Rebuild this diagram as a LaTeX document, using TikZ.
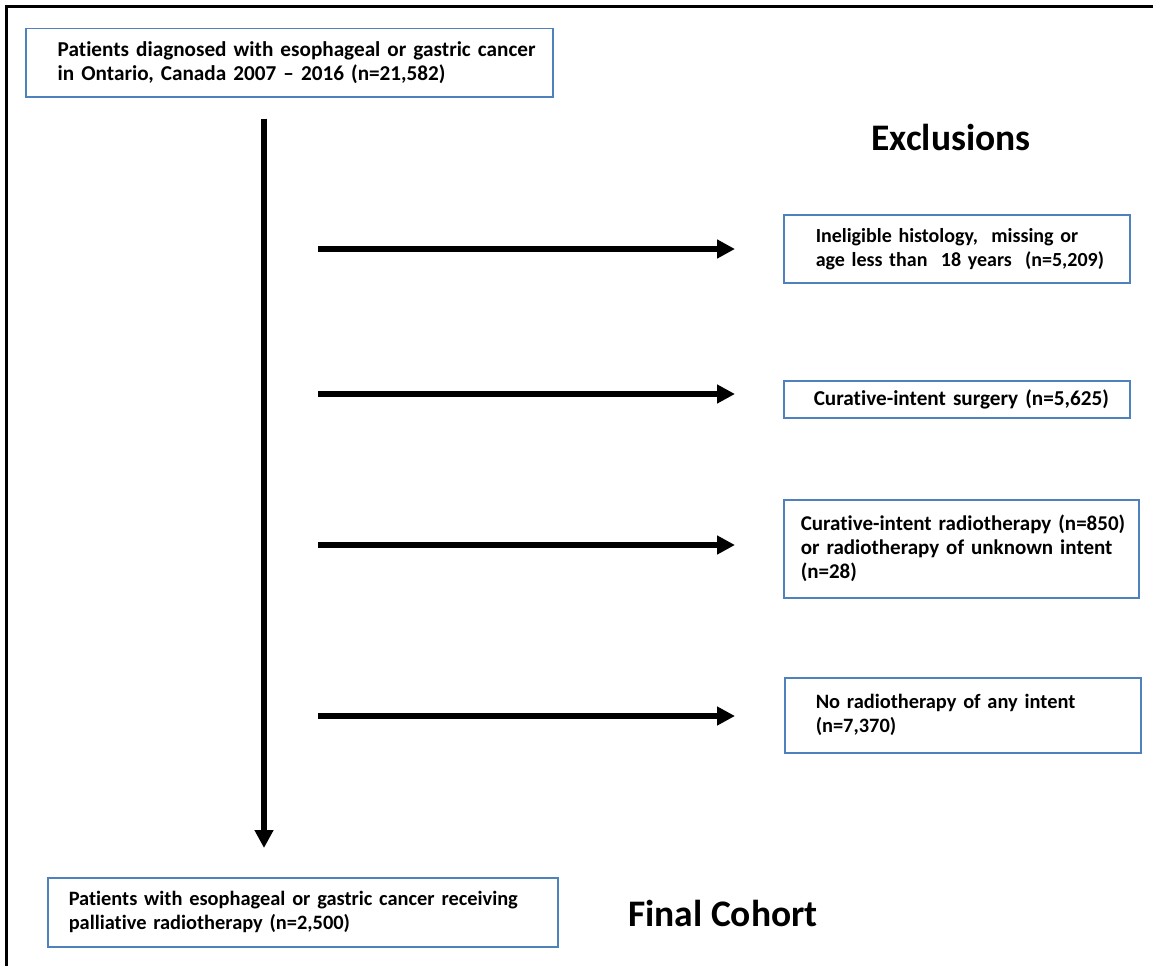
\documentclass[tikz,border=0pt]{standalone}
\usepackage{fontspec}
\setmainfont{Carlito}[Ligatures=NoCommon]
\usepackage{tikz}
\usetikzlibrary{arrows.meta}

\definecolor{boxblue}{RGB}{79,129,189}

\begin{document}
\begin{tikzpicture}[x=1pt,y=1pt,yscale=-1,xscale=1,
    fsz/.style={font=\bfseries\fontsize{#1}{24}\selectfont},
    stepbox/.style={draw=boxblue, line width=1.5pt, anchor=north west, inner sep=0pt,
        align=left, fsz=21.2},
    lpad/.style={execute at begin node={\leftskip=#1pt\relax}},
    flow/.style={line width=6pt, -{Triangle[length=18pt,width=18pt]}},
    heading/.style={font=\bfseries\fontsize{37.5}{44}\selectfont, inner sep=0pt}]
    \useasboundingbox (0,0) rectangle (1153,966);

    %Frame
    \draw [line width=3pt] (6.5,966) -- (6.5,6.5) -- (1153,6.5);

    % Text Node
    \node [stepbox, lpad=32, text width=527pt, minimum height=68pt] (src) at (25,28)
        {Patients diagnosed with esophageal or gastric cancer\\in Ontario, Canada 2007 -- 2016 (n=21,582)};
    % Text Node
    \node [stepbox, fsz=20, lpad=32, text width=346pt, minimum height=68pt] (ex1) at (783,214)
        {Ineligible histology,~ missing or\\age less than~ 18 years~ (n=5,209)};
    % Text Node
    \node [stepbox, lpad=30, text width=346pt, minimum height=37pt] (ex2) at (783,380)
        {Curative-intent surgery (n=5,625)};
    % Text Node
    \node [stepbox, fsz=21, lpad=17, text width=355pt, minimum height=98pt] (ex3) at (783,499)
        {Curative-intent radiotherapy (n=850)\\or radiotherapy of unknown intent\\(n=28)};
    % Text Node
    \node [stepbox, fsz=20.4, lpad=31, text width=356pt, minimum height=75pt] (ex4) at (784,677)
        {No radiotherapy of any intent\\(n=7,370)};
    % Text Node
    \node [stepbox, fsz=20.4, lpad=21, text width=510pt, minimum height=69pt] (cohort) at (47,877)
        {Patients with esophageal or gastric cancer receiving\\palliative radiotherapy (n=2,500)};

    % Text Node
    \node [heading] (exhead) at (951,137) {Exclusions};
    % Text Node
    \node [heading] (cohorthead) at (723,913) {Final Cohort};

    %Straight Lines
    \coordinate (trunk) at (264,0);
    \draw [flow, shorten <=21pt, shorten >=29pt] (src.south -| trunk) -- (cohort.north -| trunk);
    \coordinate (h1) at (318,249);
    \coordinate (h2) at (318,394);
    \coordinate (h3) at (318,545);
    \coordinate (h4) at (318,716);
    \draw [flow, shorten >=48pt] (h1) -- (h1 -| ex1.west);
    \draw [flow, shorten >=48pt] (h2) -- (h2 -| ex2.west);
    \draw [flow, shorten >=48pt] (h3) -- (h3 -| ex3.west);
    \draw [flow, shorten >=49pt] (h4) -- (h4 -| ex4.west);

\end{tikzpicture}
\end{document}
